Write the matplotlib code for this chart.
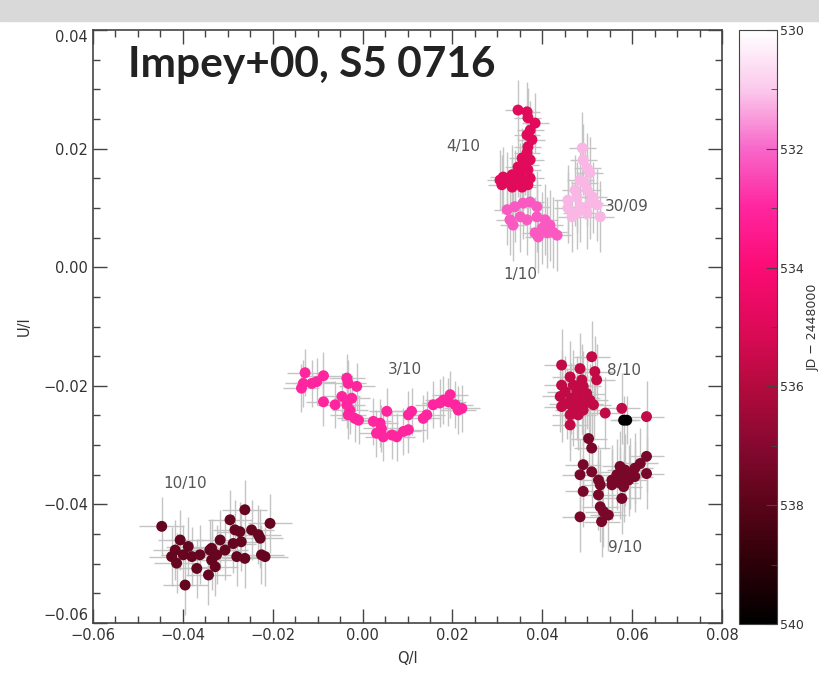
import numpy as np
import matplotlib
matplotlib.use("Agg")
import matplotlib.pyplot as plt
from matplotlib.colors import LinearSegmentedColormap, Normalize
from matplotlib.cm import ScalarMappable
from matplotlib.ticker import MultipleLocator
from matplotlib.patches import Rectangle

# ----------------------------
# data: Q/I, U/I per night, JD - 2448000 for colour
# ----------------------------
q_3009 = [0.0489, 0.0491, 0.0500, 0.0506, 0.0484, 0.0495, 0.0473, 0.0477, 0.0457, 0.0457,
          0.0484, 0.0506, 0.0522, 0.0529, 0.0500, 0.0477, 0.0466, 0.0513, 0.0500]
u_3009 = [0.0201, 0.0181, 0.0167, 0.0159, 0.0147, 0.0142, 0.0130, 0.0118, 0.0113, 0.0100,
          0.0102, 0.0108, 0.0105, 0.0085, 0.0091, 0.0091, 0.0085, 0.0118, 0.0130]

q_0110 = [0.0322, 0.0339, 0.0357, 0.0373, 0.0388, 0.0351, 0.0328, 0.0335, 0.0366, 0.0388,
          0.0406, 0.0417, 0.0400, 0.0424, 0.0433, 0.0411, 0.0384, 0.0391]
u_0110 = [0.0097, 0.0102, 0.0108, 0.0110, 0.0102, 0.0085, 0.0080, 0.0071, 0.0080, 0.0085,
          0.0080, 0.0071, 0.0066, 0.0059, 0.0054, 0.0058, 0.0058, 0.0051]

q_0410 = [0.0346, 0.0366, 0.0368, 0.0384, 0.0373, 0.0366, 0.0377, 0.0368, 0.0366, 0.0355,
          0.0373, 0.0362, 0.0346, 0.0368, 0.0351, 0.0333, 0.0313, 0.0306, 0.0322, 0.0339,
          0.0357, 0.0373, 0.0310, 0.0333, 0.0355, 0.0368]
u_0410 = [0.0265, 0.0262, 0.0252, 0.0243, 0.0231, 0.0223, 0.0215, 0.0203, 0.0193, 0.0184,
          0.0181, 0.0172, 0.0169, 0.0164, 0.0159, 0.0156, 0.0152, 0.0147, 0.0144, 0.0147,
          0.0147, 0.0150, 0.0139, 0.0135, 0.0135, 0.0139]

q_0310 = [-0.0128, -0.0132, -0.0113, -0.0102, -0.0087, -0.0136, -0.0035, -0.0032, -0.0013, -0.0046,
          -0.0024, -0.0087, -0.0061, -0.0035, -0.0028, -0.0032, -0.0017, -0.0009, 0.0024, 0.0039,
          0.0054, 0.0042, 0.0031, 0.0046, 0.0065, 0.0076, 0.0091, 0.0102, 0.0102, 0.0109,
          0.0135, 0.0143, 0.0157, 0.0172, 0.0180, 0.0195, 0.0191, 0.0206, 0.0213, 0.0221]
u_0310 = [-0.0178, -0.0196, -0.0196, -0.0193, -0.0183, -0.0204, -0.0187, -0.0196, -0.0201, -0.0218,
          -0.0221, -0.0227, -0.0232, -0.0232, -0.0241, -0.0249, -0.0255, -0.0258, -0.0260, -0.0263,
          -0.0243, -0.0272, -0.0280, -0.0286, -0.0283, -0.0286, -0.0277, -0.0274, -0.0249, -0.0243,
          -0.0255, -0.0249, -0.0232, -0.0229, -0.0224, -0.0215, -0.0227, -0.0232, -0.0241, -0.0238]

q_0810 = [0.0510, 0.0443, 0.0484, 0.0517, 0.0462, 0.0488, 0.0521, 0.0443, 0.0469, 0.0491,
          0.0451, 0.0477, 0.0499, 0.0440, 0.0465, 0.0488, 0.0506, 0.0454, 0.0477, 0.0495,
          0.0514, 0.0443, 0.0469, 0.0491, 0.0462, 0.0480, 0.0462, 0.0540, 0.0577, 0.0632]
u_0810 = [-0.0151, -0.0165, -0.0171, -0.0176, -0.0185, -0.0190, -0.0190, -0.0199, -0.0199, -0.0201,
          -0.0210, -0.0210, -0.0213, -0.0218, -0.0221, -0.0221, -0.0224, -0.0230, -0.0232, -0.0230,
          -0.0232, -0.0235, -0.0241, -0.0241, -0.0249, -0.0249, -0.0266, -0.0246, -0.0238, -0.0252]

q_0910 = [0.0503, 0.0510, 0.0632, 0.0618, 0.0606, 0.0491, 0.0510, 0.0484, 0.0525, 0.0529,
          0.0573, 0.0584, 0.0595, 0.0566, 0.0581, 0.0555, 0.0573, 0.0592, 0.0606, 0.0555,
          0.0581, 0.0632, 0.0525, 0.0577, 0.0491, 0.0529, 0.0536, 0.0547, 0.0484, 0.0532]
u_0910 = [-0.0289, -0.0305, -0.0319, -0.0331, -0.0339, -0.0333, -0.0345, -0.0350, -0.0359, -0.0367,
          -0.0336, -0.0342, -0.0348, -0.0350, -0.0353, -0.0359, -0.0364, -0.0359, -0.0353, -0.0367,
          -0.0370, -0.0348, -0.0384, -0.0390, -0.0378, -0.0404, -0.0412, -0.0418, -0.0421, -0.0429]

q_1010 = [-0.0447, -0.0406, -0.0388, -0.0417, -0.0425, -0.0399, -0.0414, -0.0380, -0.0362, -0.0369,
          -0.0343, -0.0395, -0.0336, -0.0340, -0.0317, -0.0328, -0.0306, -0.0295, -0.0262, -0.0284,
          -0.0273, -0.0288, -0.0270, -0.0280, -0.0262, -0.0247, -0.0232, -0.0228, -0.0225, -0.0217,
          -0.0206, -0.0325, -0.0336]
u_1010 = [-0.0437, -0.0460, -0.0471, -0.0477, -0.0488, -0.0485, -0.0499, -0.0488, -0.0485, -0.0508,
          -0.0519, -0.0536, -0.0494, -0.0477, -0.0460, -0.0505, -0.0477, -0.0426, -0.0409, -0.0443,
          -0.0446, -0.0466, -0.0463, -0.0488, -0.0491, -0.0443, -0.0451, -0.0457, -0.0485, -0.0488,
          -0.0432, -0.0485, -0.0474]

q_flare = [0.0581, 0.0588]
u_flare = [-0.0258, -0.0258]

# colour value (JD - 2448000) and typical error bars per night
nights = ["30/09", "1/10", "4/10", "3/10", "8/10", "9/10", "10/10", "flare"]
jd = [531.2, 532.2, 534.9, 533.0, 535.7, 537.3, 537.7, 540.0]
qerr = [0.003, 0.003, 0.003, 0.004, 0.004, 0.004, 0.005, 0.003]
uerr = [0.006, 0.006, 0.005, 0.004, 0.006, 0.006, 0.005, 0.004]

label_text = ["4/10", "30/09", "1/10", "3/10", "8/10", "9/10", "10/10"]
label_q = [0.0224, 0.0589, 0.0351, 0.0095, 0.0582, 0.0584, -0.0395]
label_u = [0.0204, 0.0102, -0.0013, -0.0173, -0.0175, -0.0473, -0.0364]

x_ticks = [-0.06, -0.04, -0.02, 0.00, 0.02, 0.04, 0.06, 0.08]
y_ticks = [-0.06, -0.04, -0.02, 0.00, 0.02, 0.04]
cb_ticks = [530, 532, 534, 536, 538, 540]

qs = [q_3009, q_0110, q_0410, q_0310, q_0810, q_0910, q_1010, q_flare]
us = [u_3009, u_0110, u_0410, u_0310, u_0810, u_0910, u_1010, u_flare]

# ----------------------------
# colour scale
# ----------------------------
cmap = LinearSegmentedColormap.from_list(
    "jd_pink",
    [(0.0, "#ffffff"), (0.1, "#fbc8ec"), (0.2, "#f766c8"), (0.3, "#ff249e"),
     (0.4, "#fb0b74"), (0.5, "#de0a58"), (0.6, "#b40a3e"), (0.7, "#860830"),
     (0.8, "#5a0418"), (0.9, "#2c0008"), (1.0, "#000000")])
norm = Normalize(530, 540)

fig = plt.figure(figsize=(8.19, 6.77), dpi=100)
fig.patches.append(Rectangle((0, 1 - 21 / 677), 1, 21 / 677, transform=fig.transFigure,
                             color="#d9d9d9", zorder=-1))

ax = fig.add_axes([93 / 819, 54 / 677, 629 / 819, 593 / 677])

for q, u, v, qe, ue in zip(qs, us, jd, qerr, uerr):
    ax.errorbar(q, u, xerr=qe, yerr=ue, fmt="none", ecolor="#c4c4c4", elinewidth=1.0,
                zorder=1)
for q, u, v in zip(qs, us, jd):
    ax.scatter(q, u, s=62, c=[cmap(norm(v))] * len(q), edgecolors="none", zorder=3)

for t, lq, lu in zip(label_text, label_q, label_u):
    ax.text(lq, lu, t, fontsize=11, color="#555555", ha="center", va="center", zorder=4)

ax.set_xlim(-0.06, 0.08)
ax.set_ylim(-0.06, 0.04)
ax.set_xticks(x_ticks, [f"{v:.2f}".replace("-", "\u2212") for v in x_ticks])
ax.set_yticks(y_ticks, [f"{v:.2f}".replace("-", "\u2212") for v in y_ticks])
ax.xaxis.set_minor_locator(MultipleLocator(0.005))
ax.yaxis.set_minor_locator(MultipleLocator(0.005))
ax.tick_params(which="both", direction="in", top=True, right=True, colors="#444444",
               labelcolor="#333333", labelsize=10.5)
ax.tick_params(which="major", length=10, width=1)
ax.tick_params(which="minor", length=5, width=1)
for s in ax.spines.values():
    s.set_color("#444444")
    s.set_linewidth(1.2)
ax.set_xlabel("Q/I", fontsize=10.5, color="#333333", labelpad=6)
ax.set_ylabel("U/I", fontsize=10.5, color="#333333", labelpad=8)

# end labels of the y axis sit inside the frame, as in the original
ylabels = ax.get_yticklabels()
ylabels[0].set_verticalalignment("bottom")
ylabels[-1].set_verticalalignment("top")

fig.text(128 / 819, 1 - 65 / 677, "Impey+00, S5 0716", fontsize=30.5, fontweight="bold",
         family="Lato", color="#222222", va="center", ha="left")

# colorbar
cax = fig.add_axes([739 / 819, 53 / 677, 38 / 819, 594 / 677])
cb = fig.colorbar(ScalarMappable(norm=norm, cmap=cmap), cax=cax)
cax.invert_yaxis()
cb.set_ticks(cb_ticks)
cax.yaxis.set_minor_locator(MultipleLocator(1))
cax.tick_params(which="both", direction="in", colors="#444444", labelcolor="#333333",
                labelsize=9, pad=2)
cax.tick_params(which="major", length=8)
cax.tick_params(which="minor", length=4)
cb.outline.set_edgecolor("#444444")
cb.set_label("JD \u2212 2448000", fontsize=9, color="#333333", labelpad=2)

fig.savefig("out.png", dpi=100)
